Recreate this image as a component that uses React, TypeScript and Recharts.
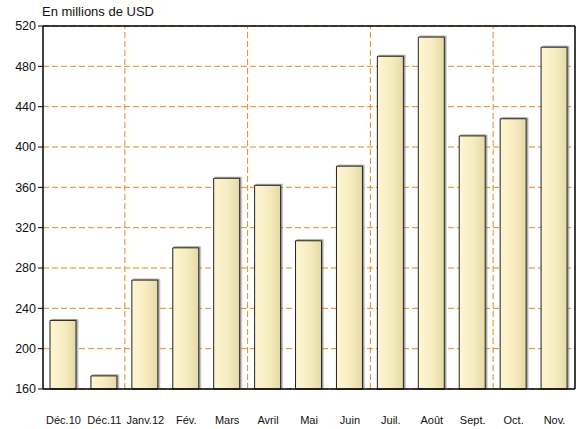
import React from 'react'
import { BarChart, Bar, XAxis, YAxis, CartesianGrid, ReferenceLine } from 'recharts'

const months = ['Déc.10', 'Déc.11', 'Janv.12', 'Fév.', 'Mars', 'Avril', 'Mai', 'Juin', 'Juil.', 'Août', 'Sept.', 'Oct.', 'Nov.']
const values = [228, 173, 268, 300, 369, 362, 307, 381, 490, 509, 411, 428, 499]
const yTicks = [160, 200, 240, 280, 320, 360, 400, 440, 480, 520]
// a dashed separator is drawn before each of these months
const quarterStarts = ['Janv.12', 'Avril', 'Juil.', 'Oct.']

const data = months.map((m, i) => ({ month: m, value: values[i] }))

const gridColor = '#E08C1E'

export default function App() {
  return (
    <div style={{ position: 'absolute', left: 0, top: 0, width: 588, height: 429, background: '#fff', fontFamily: 'Liberation Sans, Arial, sans-serif' }}>
      <div style={{ position: 'absolute', left: 42, top: 4, fontSize: 13, color: '#111' }}>En millions de USD</div>
      <BarChart
        width={588}
        height={429}
        data={data}
        margin={{ top: 26, right: 13, bottom: 10, left: 0 }}
        barSize={26}
      >
        <defs>
          <linearGradient id="barFill" x1="0" y1="0" x2="1" y2="0">
            <stop offset="0%" stopColor="#FDF6D2" />
            <stop offset="55%" stopColor="#F7ECC0" />
            <stop offset="100%" stopColor="#E4D9A6" />
          </linearGradient>
          <filter id="barShadow" x="-20%" y="-10%" width="140%" height="120%">
            <feDropShadow dx="1.5" dy="-1" stdDeviation="0.6" floodColor="#777" floodOpacity="0.7" />
          </filter>
        </defs>
        <CartesianGrid
          vertical={false}
          stroke={gridColor}
          strokeDasharray="6 3"
          strokeWidth={1}
        />
        <XAxis
          dataKey="month"
          height={30}
          axisLine={{ stroke: '#000', strokeWidth: 1.5 }}
          tickLine={false}
          interval={0}
          tick={{ fontSize: 11, fill: '#111' }}
          dy={19}
        />
        <YAxis
          domain={[160, 520]}
          ticks={yTicks}
          width={43}
          interval={0}
          axisLine={{ stroke: '#000', strokeWidth: 1.5 }}
          tickLine={{ stroke: '#000' }}
          tickSize={5}
          tick={{ fontSize: 12.5, fill: '#111' }}
        />
        {quarterStarts.map((m) => (
          <ReferenceLine key={m} x={m} position="start" stroke={gridColor} strokeDasharray="6 3" />
        ))}
        <ReferenceLine y={520} stroke="#000" strokeWidth={1.5} />
        <ReferenceLine x="Nov." position="end" stroke="#000" strokeWidth={1.5} />
        <Bar
          dataKey="value"
          fill="url(#barFill)"
          stroke="#222"
          strokeWidth={1}
          filter="url(#barShadow)"
          isAnimationActive={false}
        />
      </BarChart>
    </div>
  )
}
